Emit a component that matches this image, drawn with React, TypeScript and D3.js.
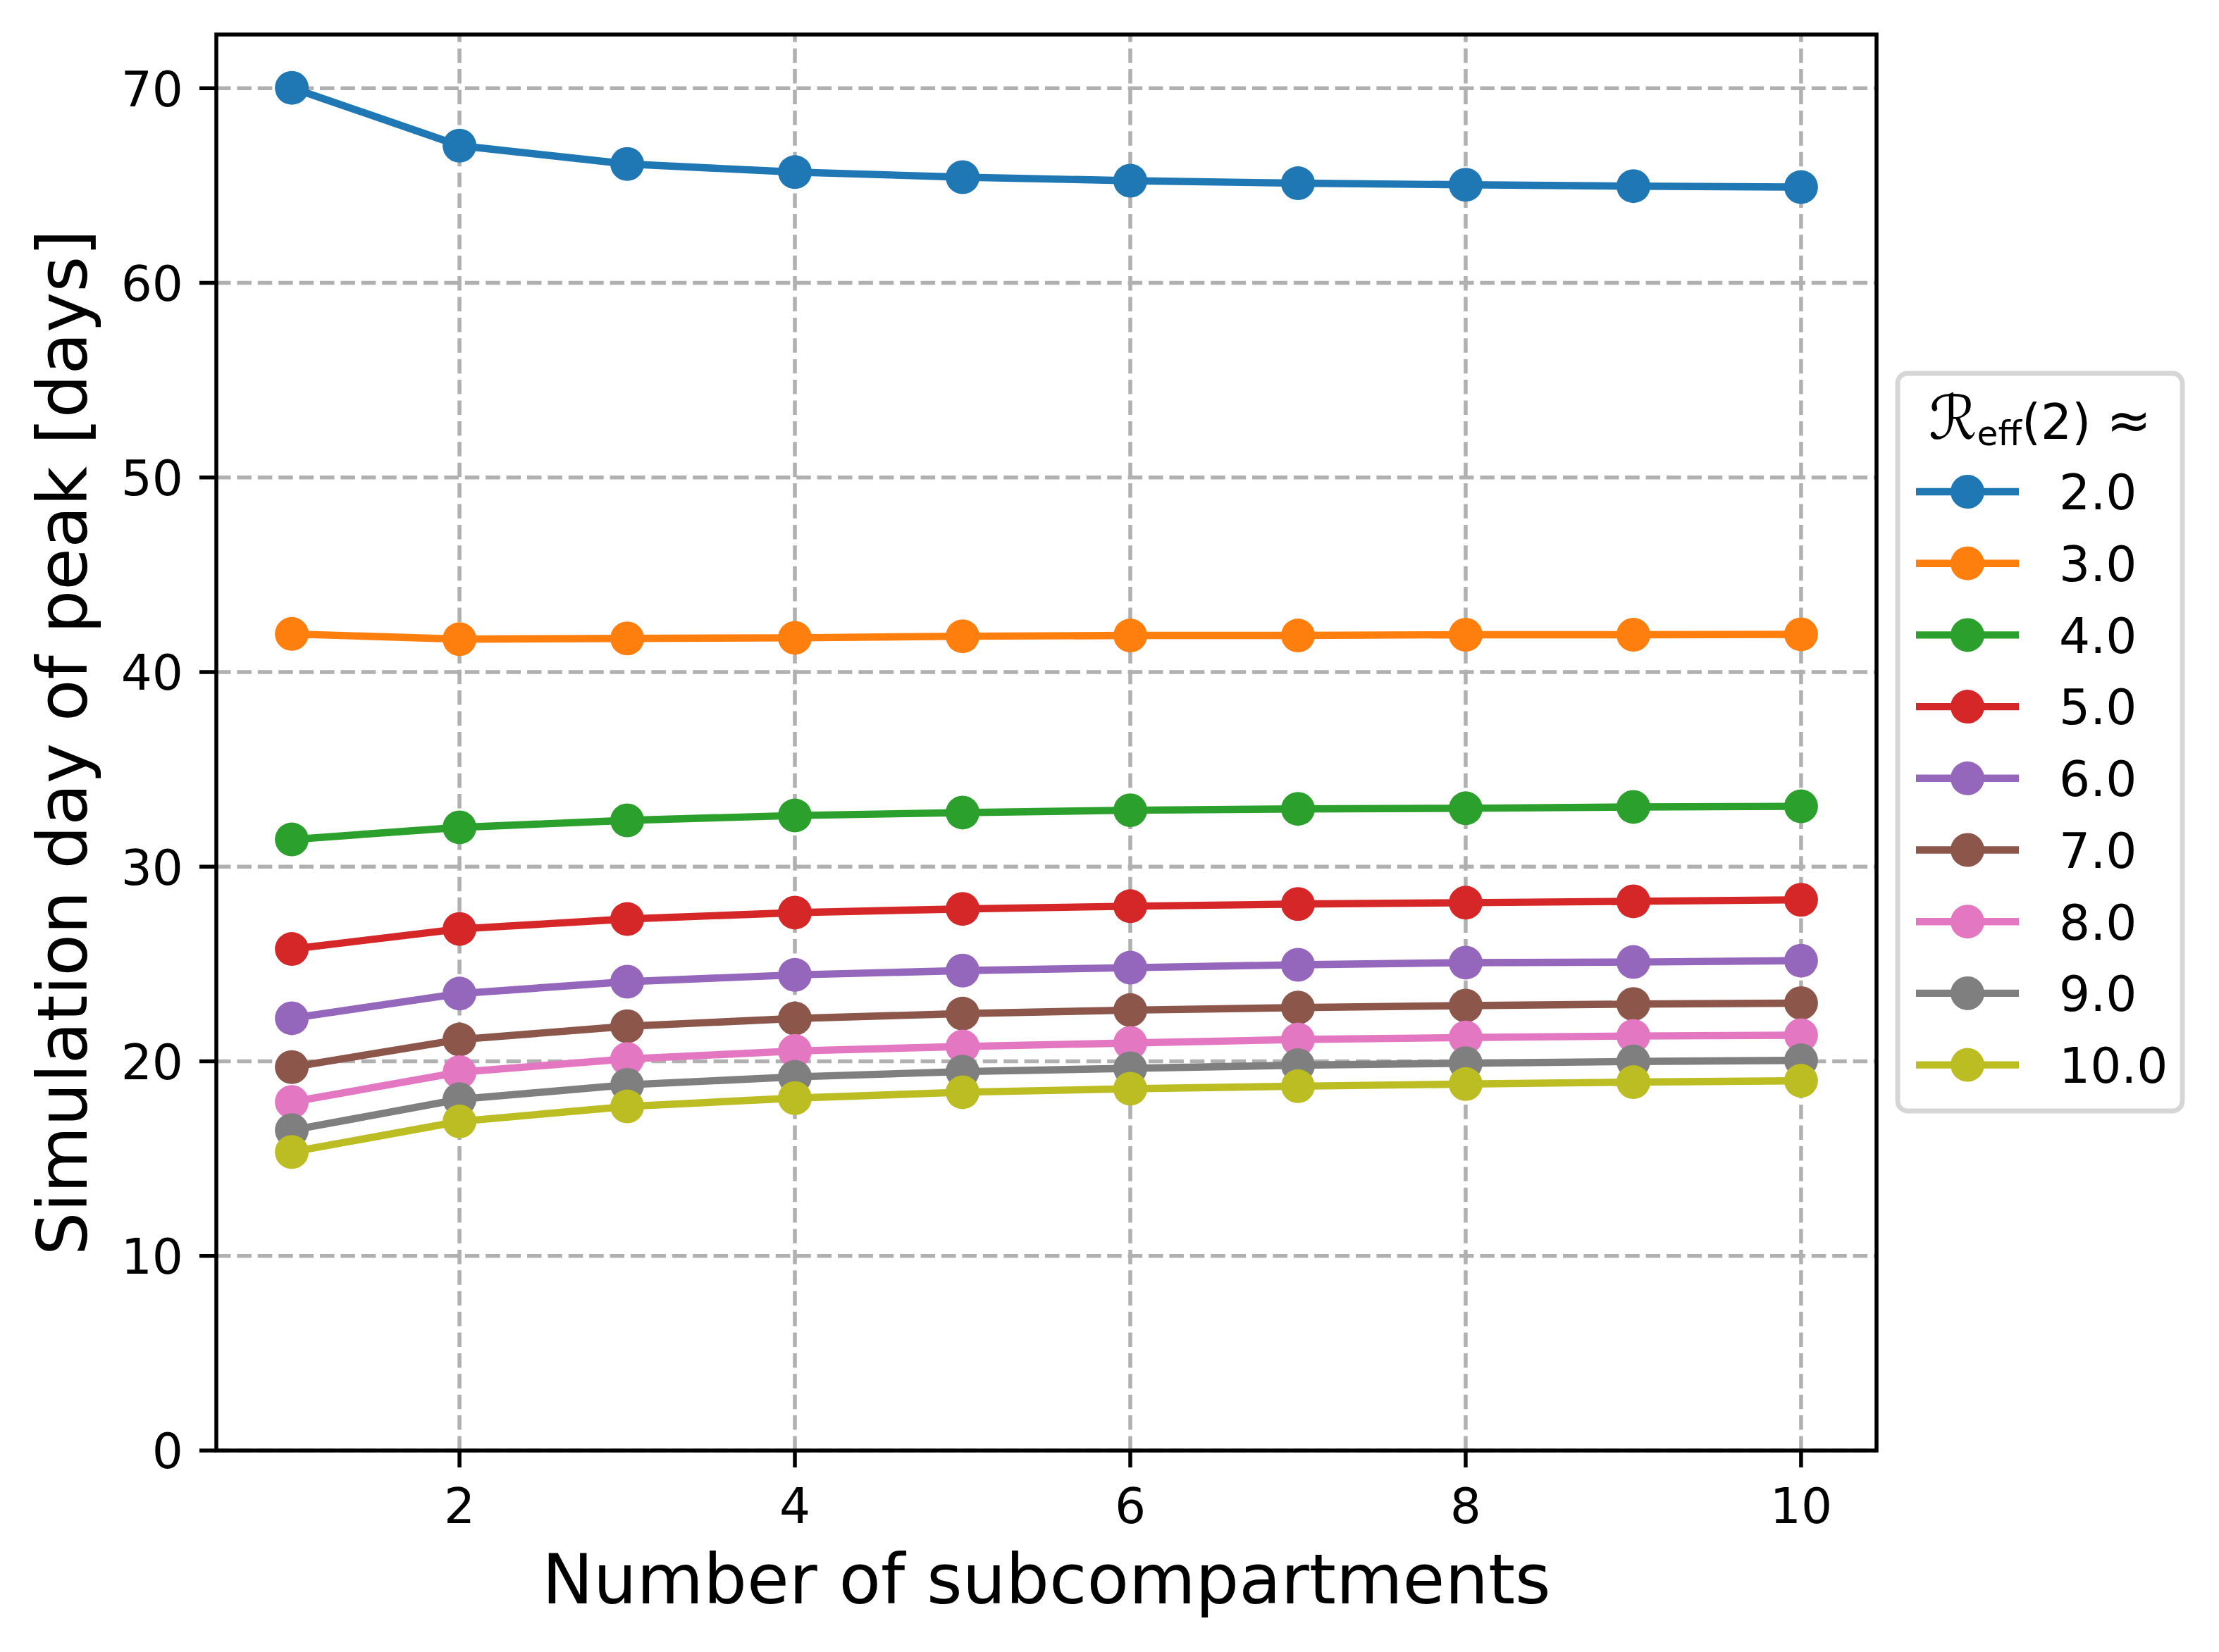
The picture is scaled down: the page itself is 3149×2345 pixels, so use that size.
import React from "react";
import * as d3 from "d3";

const W = 3149;
const H = 2345;

const subcompartments = [1, 2, 3, 4, 5, 6, 7, 8, 9, 10];
const seriesLabels = ["2.0", "3.0", "4.0", "5.0", "6.0", "7.0", "8.0", "9.0", "10.0"];
const seriesColors = ["#1f77b4", "#ff7f0e", "#2ca02c", "#d62728", "#9467bd", "#8c564b", "#e377c2", "#7f7f7f", "#bcbd22"];

const r2 = [70.02, 67.05, 66.11, 65.69, 65.43, 65.25, 65.12, 65.04, 64.97, 64.92];
const r3 = [41.96, 41.69, 41.73, 41.76, 41.84, 41.88, 41.88, 41.92, 41.92, 41.94];
const r4 = [31.4, 32.02, 32.38, 32.63, 32.78, 32.9, 32.97, 33.0, 33.07, 33.1];
const r5 = [25.77, 26.8, 27.31, 27.64, 27.83, 27.97, 28.08, 28.15, 28.22, 28.3];
const r6 = [22.21, 23.48, 24.09, 24.44, 24.66, 24.81, 24.96, 25.07, 25.1, 25.17];
const r7 = [19.7, 21.12, 21.8, 22.2, 22.45, 22.63, 22.76, 22.86, 22.94, 22.99];
const r8 = [17.91, 19.44, 20.12, 20.53, 20.76, 20.94, 21.12, 21.22, 21.3, 21.34];
const r9 = [16.46, 18.05, 18.79, 19.2, 19.47, 19.64, 19.8, 19.9, 19.99, 20.05];
const r10 = [15.34, 16.91, 17.68, 18.11, 18.41, 18.59, 18.72, 18.83, 18.93, 19.0];

const seriesValues = [r2, r3, r4, r5, r6, r7, r8, r9, r10];

const xTicks = [2, 4, 6, 8, 10];
const yTicks = [0, 10, 20, 30, 40, 50, 60, 70];

const xLabel = "Number of subcompartments";
const yLabel = "Simulation day of peak [days]";

const FONT = "'DejaVu Sans', sans-serif";

export default function App() {
  const left = 307;
  const right = 2663;
  const top = 49;
  const bottom = 2059;

  const x = d3.scaleLinear().domain([0.55, 10.45]).range([left, right]);
  const y = d3.scaleLinear().domain([0, 72.76]).range([bottom, top]);

  const line = d3
    .line<number>()
    .x((_, i) => x(subcompartments[i]))
    .y((d) => y(d));

  const tickFs = 69.4;
  const labelFs = 97.2;
  const lw = 10.4;
  const mr = 24;
  const gridW = 5.5;
  const spineW = 5.5;
  const tickLen = 24;

  // legend layout
  const lgLeft = 2693;
  const lgRight = 3097;
  const lgTop = 530;
  const lgBottom = 1577;
  const rowY0 = 698;
  const rowStep = 101.7;
  const handleX0 = 2719;
  const handleX1 = 2865;
  const textX = 2922;

  return (
    <svg
      width={W}
      height={H}
      viewBox={`0 0 ${W} ${H}`}
      style={{ position: "absolute", left: 0, top: 0, display: "block", background: "#fff" }}
      xmlns="http://www.w3.org/2000/svg"
    >
      <rect x={0} y={0} width={W} height={H} fill="#ffffff" />
      <defs>
        <clipPath id="plotclip">
          <rect x={left} y={top} width={right - left} height={bottom - top} />
        </clipPath>
      </defs>

      {/* grid */}
      <g stroke="#b0b0b0" strokeWidth={gridW} strokeDasharray="20.5 8.9" fill="none">
        {xTicks.map((t) => (
          <line key={"gx" + t} x1={x(t)} x2={x(t)} y1={bottom} y2={top} />
        ))}
        {yTicks.map((t) => (
          <line key={"gy" + t} x1={left} x2={right} y1={y(t)} y2={y(t)} />
        ))}
      </g>

      {/* series */}
      <g clipPath="url(#plotclip)">
        {seriesValues.map((vals, si) => (
          <g key={"s" + si}>
            <path d={line(vals) || ""} fill="none" stroke={seriesColors[si]} strokeWidth={lw} strokeLinejoin="round" strokeLinecap="square" />
            {vals.map((v, i) => (
              <circle key={i} cx={x(subcompartments[i])} cy={y(v)} r={mr} fill={seriesColors[si]} />
            ))}
          </g>
        ))}
      </g>

      {/* spines */}
      <rect x={left} y={top} width={right - left} height={bottom - top} fill="none" stroke="#000" strokeWidth={spineW} strokeLinejoin="miter" />

      {/* x ticks */}
      <g>
        {xTicks.map((t) => (
          <g key={"xt" + t}>
            <line x1={x(t)} x2={x(t)} y1={bottom} y2={bottom + tickLen} stroke="#000" strokeWidth={spineW} />
            <text x={x(t)} y={2162} textAnchor="middle" fontFamily={FONT} fontSize={tickFs} fill="#000">
              {String(t)}
            </text>
          </g>
        ))}
      </g>

      {/* y ticks */}
      <g>
        {yTicks.map((t) => (
          <g key={"yt" + t}>
            <line x1={left - tickLen} x2={left} y1={y(t)} y2={y(t)} stroke="#000" strokeWidth={spineW} />
            <text x={260} y={y(t) + 25.3} textAnchor="end" fontFamily={FONT} fontSize={tickFs} fill="#000">
              {String(t)}
            </text>
          </g>
        ))}
      </g>

      {/* axis labels */}
      <text x={(left + right) / 2} y={2276} textAnchor="middle" fontFamily={FONT} fontSize={labelFs} fill="#000">
        {xLabel}
      </text>
      <text
        transform={`translate(123, ${(top + bottom) / 2}) rotate(-90)`}
        textAnchor="middle"
        fontFamily={FONT}
        fontSize={labelFs}
        fill="#000"
      >
        {yLabel}
      </text>

      {/* legend */}
      <g>
        <rect
          x={lgLeft}
          y={lgTop}
          width={lgRight - lgLeft}
          height={lgBottom - lgTop}
          rx={13.9}
          ry={13.9}
          fill="#ffffff"
          fillOpacity={0.8}
          stroke="#d6d6d6"
          strokeWidth={6.9}
        />
        <text x={(lgLeft + lgRight) / 2} y={623} textAnchor="middle" fontFamily={FONT} fontSize={tickFs} fill="#000">
          <tspan fontFamily="'DejaVu Serif', 'DejaVu Sans', serif" fontStyle="italic" fontSize={86}>ℛ</tspan>
          <tspan fontSize={tickFs * 0.7} dy={9}>eff</tspan>
          <tspan dy={-9}>(2) </tspan>
          <tspan fontSize={76}>≈</tspan>
        </text>
        {seriesLabels.map((lab, si) => {
          const cy = rowY0 + si * rowStep;
          return (
            <g key={"lg" + si}>
              <line x1={handleX0} x2={handleX1} y1={cy} y2={cy} stroke={seriesColors[si]} strokeWidth={lw} />
              <circle cx={(handleX0 + handleX1) / 2} cy={cy} r={mr} fill={seriesColors[si]} />
              <text x={textX} y={cy + 25.3} fontFamily={FONT} fontSize={tickFs} fill="#000">
                {lab}
              </text>
            </g>
          );
        })}
      </g>
    </svg>
  );
}
